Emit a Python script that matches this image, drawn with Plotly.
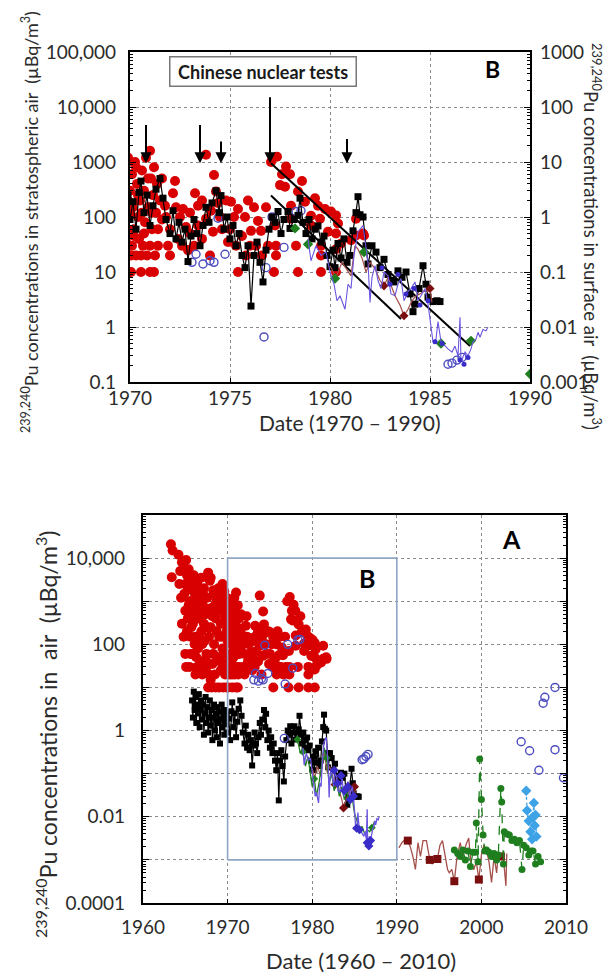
import math
import plotly.graph_objects as go

# ---------------- DATA ----------------
# Stratospheric air 239,240Pu (µBq/m3) – red filled circles: (decimal year, value)
strat_pts = [
    (1963.3, 21000), (1963.5, 15000), (1963.4, 3600), (1964.2, 12000), (1964.4, 5000), (1964.3, 2500),
    (1964.5, 1200), (1964.6, 8000), (1964.6, 300), (1964.8, 150), (1964.9, 6000), (1964.9, 1500),
    (1965.0, 600), (1965.0, 60), (1965.0, 2500), (1965.1, 9000), (1965.1, 30), (1965.2, 4000), (1965.2, 200),
    (1965.3, 2000), (1965.3, 400), (1965.4, 5500), (1965.4, 800), (1965.5, 1000), (1965.5, 30), (1965.6, 3000),
    (1965.6, 150), (1965.6, 60), (1965.7, 600), (1965.7, 250), (1965.8, 1800), (1965.8, 60), (1965.9, 300),
    (1965.9, 800), (1966.0, 4000), (1966.0, 500), (1966.1, 1200), (1966.1, 100), (1966.2, 150), (1966.2, 20),
    (1966.3, 700), (1966.3, 50), (1966.3, 2000), (1966.4, 2500), (1966.4, 30), (1966.5, 80), (1966.5, 1000),
    (1966.6, 400), (1966.6, 150), (1966.7, 1500), (1966.8, 40), (1966.8, 600), (1966.9, 200), (1966.9, 3500),
    (1967.0, 900), (1967.0, 20), (1967.0, 100), (1967.1, 25), (1967.1, 1500), (1967.2, 2000), (1967.2, 300),
    (1967.3, 120), (1967.3, 700), (1967.4, 500), (1967.4, 45), (1967.5, 60), (1967.5, 30), (1967.6, 1200),
    (1967.6, 250), (1967.7, 4600), (1967.7, 10), (1967.8, 20), (1967.8, 150), (1967.9, 3000), (1968.0, 250),
    (1968.0, 15), (1968.0, 3500), (1968.1, 700), (1968.1, 10), (1968.2, 35), (1968.2, 450), (1968.3, 1800),
    (1968.3, 60), (1968.4, 100), (1968.4, 1500), (1968.5, 20), (1968.5, 800), (1968.6, 400), (1968.6, 10),
    (1968.7, 1000), (1968.7, 200), (1968.8, 50), (1968.8, 1200), (1968.9, 2000), (1968.9, 600), (1969.0, 150),
    (1969.0, 10), (1969.0, 800), (1969.1, 600), (1969.1, 40), (1969.2, 25), (1969.2, 300), (1969.3, 1300),
    (1969.3, 150), (1969.4, 80), (1969.4, 2500), (1969.5, 300), (1969.5, 10), (1969.5, 60), (1969.6, 1700),
    (1969.6, 700), (1969.7, 20), (1969.7, 450), (1969.8, 900), (1969.8, 35), (1969.9, 200), (1969.9, 10),
    (1969.9, 1200),
    (1970.0, 300), (1970.0, 120), (1970.05, 10), (1970.05, 20), (1970.1, 30), (1970.1, 600), (1970.15, 150),
    (1970.2, 60), (1970.2, 45), (1970.25, 1000), (1970.3, 20), (1970.3, 800), (1970.35, 400),
    (1970.4, 100), (1970.4, 250), (1970.45, 40), (1970.5, 200), (1970.55, 10), (1970.55, 20),
    (1970.6, 700), (1970.6, 120), (1970.65, 30), (1970.7, 300), (1970.7, 50), (1970.75, 80),
    (1970.8, 1200), (1970.85, 20), (1970.9, 150), (1970.9, 500), (1971.0, 1600), (1971.0, 10),
    (1971.0, 30), (1971.05, 500), (1971.1, 60), (1971.1, 120), (1971.15, 250), (1971.2, 10),
    (1971.2, 800), (1971.25, 20), (1971.3, 120), (1971.35, 400), (1971.4, 30), (1971.4, 60), (1971.5, 200),
    (1971.6, 90), (1971.6, 500), (1971.75, 160), (1971.8, 100), (1971.9, 30), (1972.0, 60), (1972.0, 20),
    (1972.15, 270), (1972.25, 450), (1972.3, 150), (1972.4, 40), (1972.5, 100), (1972.6, 30), (1972.65, 140),
    (1972.8, 66), (1972.9, 25), (1973.0, 50), (1973.0, 120), (1973.2, 30), (1973.25, 270), (1973.4, 160),
    (1973.4, 70), (1973.6, 40), (1973.6, 200), (1973.8, 1350), (1973.8, 93), (1974.0, 20), (1974.05, 130),
    (1974.15, 54), (1974.2, 580), (1974.3, 290), (1974.4, 180), (1974.5, 100), (1974.6, 60), (1974.8, 200),
    (1974.9, 35), (1975.0, 60), (1975.05, 190), (1975.2, 100), (1975.3, 30), (1975.4, 10), (1975.4, 140),
    (1975.6, 45), (1975.75, 100), (1975.8, 20), (1975.9, 200), (1976.0, 30), (1976.05, 56), (1976.2, 150),
    (1976.3, 30), (1976.4, 85), (1976.55, 56), (1976.6, 20), (1976.8, 150), (1976.9, 30), (1977.05, 1000),
    (1977.2, 10), (1977.25, 70), (1977.3, 30), (1977.3, 20), (1977.35, 1250), (1977.5, 380), (1977.6, 600),
    (1977.75, 355), (1977.8, 830), (1978.0, 600), (1978.05, 160), (1978.05, 93), (1978.3, 30), (1978.4, 290),
    (1978.4, 10), (1978.6, 450), (1978.75, 190), (1979.05, 105), (1979.05, 70), (1979.25, 220), (1979.4, 160),
    (1979.5, 93), (1979.55, 20), (1979.55, 10), (1979.55, 30), (1979.75, 140), (1979.9, 54),
    (1980.05, 126), (1980.3, 107), (1980.3, 50), (1980.3, 26), (1980.3, 10), (1980.4, 76),
    (1980.55, 33), (1981.05, 38), (1981.3, 93), (1981.3, 46), (1981.65, 50), (1981.7, 46),
]

# Stratospheric air, second data set – blue open circles: (year, value)
strat_open_pts = [
    (1973.1, 15), (1973.3, 21), (1973.65, 14), (1974.0, 16), (1974.2, 15), (1974.4, 95),
    (1974.75, 21), (1976.7, 0.66), (1976.8, 12), (1977.1, 100), (1977.7, 28), (1978.3, 126),
    (1978.55, 130), (1985.9, 0.21), (1986.1, 0.22), (1986.35, 0.25), (1986.6, 0.28),
    (2004.7, 0.55), (2005.7, 0.34), (2006.8, 0.12), (2007.3, 4.3), (2007.5, 5.9),
    (2008.7, 10), (2008.7, 0.36), (2009.7, 0.08),
]

# Surface air 239,240Pu (µBq/m3) – black squares joined by a line
surf_black_yr = [
    1965.8, 1965.9, 1966.0, 1966.1, 1966.2, 1966.3, 1966.4, 1966.5, 1966.6, 1966.7, 1966.8, 1966.9,
    1967.0, 1967.1, 1967.2, 1967.3, 1967.4, 1967.5, 1967.6, 1967.7, 1967.8, 1967.9, 1968.0, 1968.1,
    1968.2, 1968.3, 1968.4, 1968.5, 1968.6, 1968.7, 1968.8, 1968.9, 1969.0, 1969.1, 1969.2, 1969.3,
    1969.4, 1969.5, 1969.6, 1969.7, 1969.8, 1969.9, 1970.0, 1970.15, 1970.3, 1970.45, 1970.55, 1970.7,
    1970.85, 1971.0, 1971.15, 1971.3, 1971.5, 1971.65, 1971.8, 1972.0, 1972.15, 1972.3, 1972.45, 1972.6,
    1972.75, 1972.9, 1973.05, 1973.2, 1973.35, 1973.5, 1973.65, 1973.8, 1973.95, 1974.1, 1974.3, 1974.45,
    1974.55, 1974.7, 1974.85, 1975.0, 1975.15, 1975.3, 1975.45, 1975.6, 1975.75, 1975.9, 1976.05, 1976.2,
    1976.35, 1976.5, 1976.65, 1976.8, 1976.95, 1977.1, 1977.25, 1977.4, 1977.55, 1977.7, 1977.9, 1978.0,
    1978.2, 1978.4, 1978.5, 1978.65, 1978.8, 1978.95, 1979.1, 1979.25, 1979.4, 1979.55, 1979.7, 1979.85,
    1980.0, 1980.15, 1980.25, 1980.4, 1980.55, 1980.7, 1980.85, 1981.0, 1981.15, 1981.3, 1981.4, 1981.5,
    1981.65, 1981.8, 1981.9, 1982.1, 1982.3, 1982.5, 1982.7, 1982.9, 1983.05, 1983.2, 1983.4, 1983.6,
    1983.8, 1984.0, 1984.15, 1984.25, 1984.45, 1984.65, 1984.8, 1984.9, 1985.15, 1985.35, 1985.5,
]
surf_black_val = [
    5, 2, 8, 3, 6, 1.5, 4, 2.5, 7, 1.2, 3, 5,
    1.8, 4, 0.8, 2.5, 6, 1.5, 3.5, 0.9, 2, 5, 1.3, 3,
    0.6, 2, 4, 1, 2.5, 0.7, 3.5, 1.5, 2.8, 0.5, 1.8, 4,
    1.2, 2.2, 0.8, 3, 1.4, 2.5, 0.9, 1.9, 0.6, 2.8, 4.5, 1.2,
    2.5, 0.7, 1.6, 3.2, 5.0, 2.2, 0.9, 0.5, 1.3, 0.4, 0.8, 0.35,
    0.6, 0.155, 0.45, 0.9, 0.5, 0.3, 0.7, 1.5, 0.8, 1.8, 3.0, 1.2,
    2.45, 0.6, 1.0, 0.4, 0.7, 0.3, 0.5, 0.2, 0.12, 0.3, 0.024, 0.2,
    0.35, 0.15, 0.066, 0.25, 0.6, 1.0, 0.8, 1.26, 0.5, 0.9, 1.26, 0.62,
    0.9, 1.07, 2.2, 0.8, 0.5, 0.9, 0.4, 0.6, 0.69, 0.35, 0.45, 0.2,
    0.125, 0.25, 0.12, 0.33, 0.18, 0.4, 0.15, 0.2, 0.56, 1.2, 2.34, 1.1,
    1.0, 0.3, 0.14, 0.3, 0.23, 0.12, 0.17, 0.09, 0.07, 0.066, 0.105, 0.08,
    0.1, 0.04, 0.019, 0.026, 0.05, 0.13, 0.06, 0.035, 0.029, 0.03, 0.029,
]

# Surface air – thin purple/blue line
surf_purple_yr = [
    1978.9, 1979.05, 1979.3, 1979.55, 1979.8, 1980.0, 1980.2, 1980.35, 1980.5, 1980.75, 1980.9, 1981.05,
    1981.2, 1981.4, 1981.65, 1981.8, 1981.9, 1982.0, 1982.1, 1982.25, 1982.4, 1982.55, 1982.7, 1982.9,
    1983.05, 1983.25, 1983.4, 1983.55, 1983.7, 1983.9, 1984.05, 1984.25, 1984.4, 1984.55, 1984.75, 1984.9,
    1985.05, 1985.15, 1985.3, 1985.4, 1985.55, 1985.75, 1985.9, 1986.1, 1986.25, 1986.4, 1986.5, 1986.55,
    1986.75, 1986.9, 1987.05, 1987.15, 1987.3, 1987.4, 1987.5, 1987.65, 1987.8, 1987.9,
]
surf_purple_val = [
    0.4, 0.16, 0.3, 0.2, 0.23, 0.1, 0.06, 0.03, 0.037, 0.021, 0.06, 0.05,
    0.2, 0.54, 0.7, 0.3, 0.15, 0.028, 0.08, 0.13, 0.07, 0.05, 0.1, 0.085,
    0.04, 0.037, 0.06, 0.076, 0.03, 0.044, 0.05, 0.066, 0.03, 0.037, 0.05, 0.026,
    0.01, 0.0054, 0.006, 0.0126, 0.0054, 0.0045, 0.004, 0.0035, 0.0045, 0.003, 0.015, 0.0023,
    0.0035, 0.003, 0.004, 0.0054, 0.006, 0.008, 0.0065, 0.009, 0.0085, 0.01,
]
# Surface air – dark blue dots on the purple record
surf_purple_mark_yr = [1982.6, 1983.0, 1983.4, 1983.8, 1984.2, 1984.5, 1984.9, 1985.25, 1985.6, 1986.5, 1986.7, 1986.9]
surf_purple_mark_val = [0.12, 0.06, 0.09, 0.04, 0.05, 0.025, 0.03, 0.0054, 0.005, 0.0025, 0.0021, 0.0028]

# Surface air – green line with diamonds
surf_green_yr = [
    1978.25, 1978.6, 1978.9, 1979.2, 1979.5, 1979.8, 1980.0, 1980.25, 1980.5, 1980.8, 1981.1, 1981.4,
    1981.7, 1982.0, 1982.3, 1982.6, 1982.9, 1983.2, 1983.5, 1983.8, 1984.1, 1984.4, 1984.7, 1985.0,
    1985.3, 1985.55, 1985.9, 1986.2, 1986.5, 1986.8, 1987.05, 1987.4,
]
surf_green_val = [
    0.62, 0.3, 0.32, 0.15, 0.25, 0.08, 0.05, 0.076, 0.03, 0.06, 0.15, 0.4,
    0.23, 0.06, 0.1, 0.04, 0.07, 0.03, 0.05, 0.025, 0.04, 0.02, 0.03, 0.012,
    0.008, 0.005, 0.006, 0.004, 0.005, 0.0045, 0.0056, 0.008,
]
surf_green_mark_yr = [1978.25, 1978.9, 1980.25, 1981.7, 1985.55, 1987.05]
surf_green_mark_val = [0.62, 0.32, 0.076, 0.23, 0.005, 0.0056]
# single green diamond on the right edge of panel B
surf_green_edge_yr = [1990.0]
surf_green_edge_val = [0.0014]

# Surface air – brown line, 1980-1985
surf_brown_a_yr = [
    1980.0, 1980.3, 1980.6, 1980.9, 1981.05, 1981.25, 1981.4, 1981.6, 1981.8, 1982.0, 1982.25, 1982.5,
    1982.7, 1982.9, 1983.1, 1983.25, 1983.5, 1983.7, 1983.9, 1984.1, 1984.3, 1984.5, 1984.7, 1984.9,
    1985.0, 1985.1,
]
surf_brown_a_val = [
    0.13, 0.08, 0.15, 0.1, 0.085, 0.3, 0.26, 0.18, 0.1, 0.15, 0.115, 0.07,
    0.056, 0.08, 0.05, 0.037, 0.025, 0.016, 0.021, 0.03, 0.037, 0.04, 0.045, 0.044,
    0.05, 0.028,
]
surf_brown_a_mark_yr = [1982.7, 1983.7, 1985.0]
surf_brown_a_mark_val = [0.056, 0.016, 0.05]

# Surface air – brown line with squares, 1990-2003
surf_brown_b_yr = [
    1990.25, 1990.6, 1991.0, 1991.3, 1991.6, 1991.9, 1992.2, 1992.5, 1992.8, 1993.1, 1993.5, 1993.7,
    1993.9, 1994.2, 1994.5, 1994.8, 1995.1, 1995.4, 1995.7, 1996.0, 1996.2, 1996.5, 1996.8, 1997.1,
    1997.5, 1997.8, 1998.2, 1998.5, 1998.8, 1999.1, 1999.4, 1999.7, 2000.0, 2000.3, 2000.6, 2000.9,
    2001.2, 2001.5, 2001.8, 2002.0, 2002.3, 2002.6, 2002.9, 2003.0,
]
surf_brown_b_val = [
    0.0019, 0.0025, 0.003, 0.0028, 0.002, 0.0012, 0.0006, 0.0025, 0.0012, 0.0028, 0.0028, 0.0015,
    0.001, 0.0008, 0.0011, 0.00105, 0.0022, 0.0028, 0.0012, 0.0006, 0.0005, 0.0006, 0.00032, 0.0011,
    0.0025, 0.0012, 0.0023, 0.0032, 0.0007, 0.0006, 0.0009, 0.00035, 0.0013, 0.0022, 0.0017, 0.0009,
    0.0003, 0.0012, 0.0005, 0.0015, 0.0012, 0.0011, 0.00025, 0.0014,
]
surf_brown_b_mark_yr = [1991.3, 1993.9, 1994.8, 1996.8, 1999.7, 2002.3]
surf_brown_b_mark_val = [0.0028, 0.001, 0.00105, 0.00032, 0.00035, 0.0012]

# Surface air – green dashed line with circles, 1997-2007
surf_green2_yr = [
    1996.8, 1997.2, 1997.5, 1997.8, 1998.1, 1998.4, 1998.7, 1999.0, 1999.3, 1999.4, 1999.6, 1999.8,
    2000.0, 2000.2, 2000.4, 2000.6, 2000.9, 2001.2, 2001.5, 2001.8, 2002.0, 2002.3, 2002.4, 2002.6,
    2002.7, 2003.0, 2003.3, 2003.6, 2003.9, 2004.2, 2004.5, 2004.8, 2005.0, 2005.3, 2005.6, 2005.9,
    2006.1, 2006.4, 2006.7, 2007.0,
]
surf_green2_val = [
    0.0017, 0.0014, 0.0012, 0.0017, 0.001, 0.0016, 0.0007, 0.0015, 0.0015, 0.0072, 0.0009, 0.22,
    0.025, 0.0038, 0.0016, 0.0017, 0.0015, 0.0012, 0.0014, 0.001, 0.0013, 0.045, 0.022, 0.0008,
    0.0045, 0.004, 0.0038, 0.0028, 0.003, 0.0025, 0.0028, 0.0006, 0.0022, 0.0019, 0.0013, 0.0016,
    0.0016, 0.0008, 0.0012, 0.0009,
]

# Surface air – light blue dashed line with diamonds, 2005-2006
surf_lblue_yr = [2005.3, 2005.4, 2005.6, 2005.8, 2006.0, 2006.1, 2006.2, 2006.3, 2006.4, 2006.5]
surf_lblue_val = [0.04, 0.014, 0.008, 0.0045, 0.003, 0.01, 0.021, 0.0063, 0.011, 0.0035]

# Chinese nuclear tests (arrows, top panel): year, arrow tail and tip level (left axis units)
test_years = [1970.8, 1973.5, 1974.55, 1977.0, 1980.85]
test_tail = [5000, 5000, 2500, 16000, 2800]
test_tip = [950, 950, 950, 950, 950]

# Decline lines after the 1976/77 test (left axis units)
fit_upper_yr = [1977.05, 1987.0]
fit_upper_val = [950, 0.45]
fit_lower_yr = [1977.05, 1983.55]
fit_lower_val = [245, 1.4]

# Region B drawn inside panel A
inset_yr = [1970, 1990]
inset_val = [0.001, 10000]

# Tick labels
top_x_ticks = [1970, 1975, 1980, 1985, 1990]
top_y_ticks = [0.1, 1, 10, 100, 1000, 10000, 100000]
top_y_text = ["0.1", "1", "10", "100", "1000", "10,000", "100,000"]
top_y2_ticks = [0.001, 0.01, 0.1, 1, 10, 100, 1000]
top_y2_text = ["0.001", "0.01", "0.1", "1", "10", "100", "1000"]
bot_x_ticks = [1960, 1970, 1980, 1990, 2000, 2010]
bot_y_ticks = [1e-4, 1e-3, 1e-2, 1e-1, 1, 10, 100, 1000, 1e4, 1e5]
bot_y_text = ["0.0001", "", "0.01", "", "1", "", "100", "", "10,000", ""]

# ---------------- FIGURE ----------------
W, H = 611, 978
FONT = "Lato"
TXT = "#2b2b2b"
RED = "#d80000"
PURPLE = "#6b55e0"
DBLUE = "#3a2cc8"
GREEN = "#1f7f1f"
BROWN_L = "#a5504a"
BROWN_M = "#7a0e0e"
LBLUE = "#3ea2e6"
OPEN_BLUE = "#4d4dc0"


def minor_vals(lo, hi):
    out = []
    for d in range(lo, hi):
        for m in range(2, 10):
            out.append(m * 10 ** d)
    return out


def unzip(pts):
    return [p[0] for p in pts], [p[1] for p in pts]


strat_yr, strat_val = unzip(strat_pts)
sopen_yr, sopen_val = unzip(strat_open_pts)

fig = go.Figure()

panels = {
    "top": dict(strat=("x", "y"), surf=("x", "y2")),
    "bot": dict(strat=("x2", "y3"), surf=("x2", "y3")),
}

for name, ax in panels.items():
    top = name == "top"
    xs, ys = ax["strat"]
    xf, yf = ax["surf"]
    fig.add_trace(go.Scatter(x=strat_yr, y=strat_val, mode="markers", xaxis=xs, yaxis=ys,
                             marker=dict(color=RED, size=10, line=dict(width=0))))
    fig.add_trace(go.Scatter(x=surf_black_yr, y=surf_black_val, mode="lines+markers", xaxis=xf, yaxis=yf,
                             line=dict(color="black", width=1.2),
                             marker=dict(color="black", symbol="square", size=7 if top else 6)))
    fig.add_trace(go.Scatter(x=surf_brown_a_yr, y=surf_brown_a_val, mode="lines", xaxis=xf, yaxis=yf,
                             line=dict(color=BROWN_L, width=1.2)))
    fig.add_trace(go.Scatter(x=surf_brown_a_mark_yr, y=surf_brown_a_mark_val, mode="markers", xaxis=xf, yaxis=yf,
                             marker=dict(color=BROWN_M, symbol="diamond", size=7)))
    fig.add_trace(go.Scatter(x=surf_green_yr, y=surf_green_val, mode="lines", xaxis=xf, yaxis=yf,
                             line=dict(color=GREEN, width=1.0 if top else 1.3),
                             opacity=0.0 if top else 1.0))
    fig.add_trace(go.Scatter(x=surf_green_mark_yr, y=surf_green_mark_val, mode="markers", xaxis=xf, yaxis=yf,
                             marker=dict(color=GREEN, symbol="diamond", size=8 if top else 6)))
    fig.add_trace(go.Scatter(x=surf_purple_yr, y=surf_purple_val, mode="lines", xaxis=xf, yaxis=yf,
                             line=dict(color=PURPLE, width=1.1 if top else 1.3)))
    fig.add_trace(go.Scatter(x=surf_purple_mark_yr, y=surf_purple_mark_val, mode="markers", xaxis=xf, yaxis=yf,
                             marker=dict(color=DBLUE, symbol="diamond" if not top else "circle",
                                         size=5 if top else 7)))
    fig.add_trace(go.Scatter(x=sopen_yr, y=sopen_val, mode="markers", xaxis=xs, yaxis=ys,
                             marker=dict(color=OPEN_BLUE, symbol="circle-open", size=8,
                                         line=dict(color=OPEN_BLUE, width=1.4))))

fig.add_trace(go.Scatter(x=surf_green_edge_yr, y=surf_green_edge_val, mode="markers", xaxis="x", yaxis="y2",
                         marker=dict(color=GREEN, symbol="diamond", size=8)))

fig.add_trace(go.Scatter(x=surf_brown_b_yr, y=surf_brown_b_val, mode="lines", xaxis="x2", yaxis="y3",
                         line=dict(color=BROWN_L, width=1.3)))
fig.add_trace(go.Scatter(x=surf_brown_b_mark_yr, y=surf_brown_b_mark_val, mode="markers", xaxis="x2", yaxis="y3",
                         marker=dict(color=BROWN_M, symbol="square", size=8)))
fig.add_trace(go.Scatter(x=surf_green2_yr, y=surf_green2_val, mode="lines+markers", xaxis="x2", yaxis="y3",
                         line=dict(color=GREEN, width=1.3, dash="dash"),
                         marker=dict(color=GREEN, symbol="circle", size=7)))
fig.add_trace(go.Scatter(x=surf_lblue_yr, y=surf_lblue_val, mode="lines+markers", xaxis="x2", yaxis="y3",
                         line=dict(color=LBLUE, width=1.3, dash="dot"),
                         marker=dict(color=LBLUE, symbol="diamond", size=8)))

fig.add_trace(go.Scatter(
    x=[inset_yr[0], inset_yr[1], inset_yr[1], inset_yr[0], inset_yr[0]],
    y=[inset_val[0], inset_val[0], inset_val[1], inset_val[1], inset_val[0]],
    mode="lines", xaxis="x2", yaxis="y3", line=dict(color="#8ea5c4", width=1.6)))

fig.add_trace(go.Scatter(x=fit_upper_yr, y=fit_upper_val, mode="lines", xaxis="x", yaxis="y",
                         line=dict(color="black", width=2)))
fig.add_trace(go.Scatter(x=fit_lower_yr, y=fit_lower_val, mode="lines", xaxis="x", yaxis="y",
                         line=dict(color="black", width=2)))

# ---------------- AXES ----------------
top_dom_x = [122 / W, 522 / W]
top_dom_y = [1 - 374 / H, 1 - 44 / H]
bot_dom_x = [135 / W, 558 / W]
bot_dom_y = [1 - 895 / H, 1 - 507 / H]

grid = dict(showgrid=True, gridcolor="#8a8a8a", gridwidth=1, griddash="dot")
frame = dict(showline=True, linecolor="black", linewidth=2.2, zeroline=False, automargin=False)
tickf = dict(family=FONT, size=19, color=TXT)

fig.update_layout(
    width=W, height=H, margin=dict(l=0, r=0, t=0, b=0, autoexpand=False),
    paper_bgcolor="white", plot_bgcolor="white", showlegend=False,
    font=dict(family=FONT, color=TXT),
    xaxis=dict(domain=top_dom_x, anchor="y", range=[1970, 1990], tickmode="array", tickvals=top_x_ticks,
               ticks="inside", ticklen=4, tickcolor="black", mirror=True, tickfont=tickf,
               ticklabelstandoff=-2, **grid, **frame),
    yaxis=dict(domain=top_dom_y, anchor="x", type="log", range=[-1, 5], tickmode="array",
               tickvals=top_y_ticks, ticktext=top_y_text, ticks="inside", ticklen=6, tickcolor="black",
               mirror=True, tickfont=tickf, ticklabelstandoff=8,
               minor=dict(tickmode="array", tickvals=minor_vals(-1, 5), ticks="inside", ticklen=3,
                          tickcolor="black", showgrid=False),
               **grid, **frame),
    yaxis2=dict(overlaying="y", anchor="x", side="right", type="log", range=[-3, 3], tickmode="array",
                tickvals=top_y2_ticks, ticktext=top_y2_text, ticks="inside", ticklen=6, tickcolor="black",
                tickfont=tickf, showgrid=False, ticklabelstandoff=4,
                minor=dict(tickmode="array", tickvals=minor_vals(-3, 3), ticks="inside", ticklen=3,
                           tickcolor="black", showgrid=False),
                **frame),
    xaxis2=dict(domain=bot_dom_x, anchor="y3", range=[1960, 2010], tickmode="array", tickvals=bot_x_ticks,
                ticks="inside", ticklen=4, tickcolor="black", mirror=True, tickfont=tickf,
                ticklabelstandoff=6, **grid, **frame),
    yaxis3=dict(domain=bot_dom_y, anchor="x2", type="log", range=[-4, 5], tickmode="array",
                tickvals=bot_y_ticks, ticktext=bot_y_text, ticks="inside", ticklen=6, tickcolor="black",
                mirror="allticks", tickfont=tickf, ticklabelstandoff=12,
                minor=dict(tickmode="array", tickvals=minor_vals(-4, 5), ticks="inside", ticklen=3,
                           tickcolor="black", showgrid=False),
                **grid, **frame),
)

# ---------------- ANNOTATIONS ----------------
ann = []
for yr, tail, tip in zip(test_years, test_tail, test_tip):
    ann.append(dict(x=yr, y=math.log10(tip), ax=yr, ay=math.log10(tail), xref="x", yref="y",
                    axref="x", ayref="y", text="", showarrow=True, arrowhead=2, arrowsize=1.1,
                    arrowwidth=2, arrowcolor="black"))

sp = "\u00a0"
ann.append(dict(x=1976.65, y=4.64, xref="x", yref="y", text=f"{sp}<b>Chinese nuclear tests</b>{sp}",
                showarrow=False, font=dict(family=FONT, size=18, color="#1a1a1a"), bgcolor="white",
                bordercolor="#777777", borderwidth=1.5, borderpad=3))
ann.append(dict(x=1988.1, y=4.7, xref="x", yref="y", text="<b>B</b>", showarrow=False,
                font=dict(family=FONT, size=23, color="black")))
ann.append(dict(x=1986.5, y=3.55, xref="x2", yref="y3", text="<b>B</b>", showarrow=False,
                font=dict(family=FONT, size=25, color="black")))
ann.append(dict(x=2003.5, y=4.45, xref="x2", yref="y3", text="<b>A</b>", showarrow=False,
                font=dict(family=FONT, size=25, color="black")))

common = dict(xref="paper", yref="paper", showarrow=False, xanchor="center", yanchor="middle")
ann.append(dict(x=22 / W, y=1 - 214 / H, textangle=-90,
                text=f"<sup>239,240</sup>Pu concentrations in stratospheric air{sp}{sp}(µBq/m<sup>3</sup>)",
                font=dict(family=FONT, size=18, color=TXT), **common))
ann.append(dict(x=585 / W, y=1 - 228 / H, textangle=90,
                text=f"<sup>239,240</sup>Pu concentrations in surface air{sp}{sp}(µBq/m<sup>3</sup>)",
                font=dict(family=FONT, size=18.5, color=TXT), **common))
ann.append(dict(x=342 / W, y=1 - 414 / H,
                text="Date (1970 – 1990)", font=dict(family=FONT, size=21, color=TXT), **common))
ann.append(dict(x=38 / W, y=1 - 726 / H, textangle=-90,
                text=f"<sup>239,240</sup>Pu concentrations in{sp}{sp}air{sp}{sp}(µBq/m<sup>3</sup>)",
                font=dict(family=FONT, size=23, color=TXT), **common))
ann.append(dict(x=353 / W, y=1 - 952 / H,
                text="Date (1960 – 2010)", font=dict(family=FONT, size=22, color=TXT), **common))

fig.update_layout(annotations=ann)

fig.write_html("out.html")
